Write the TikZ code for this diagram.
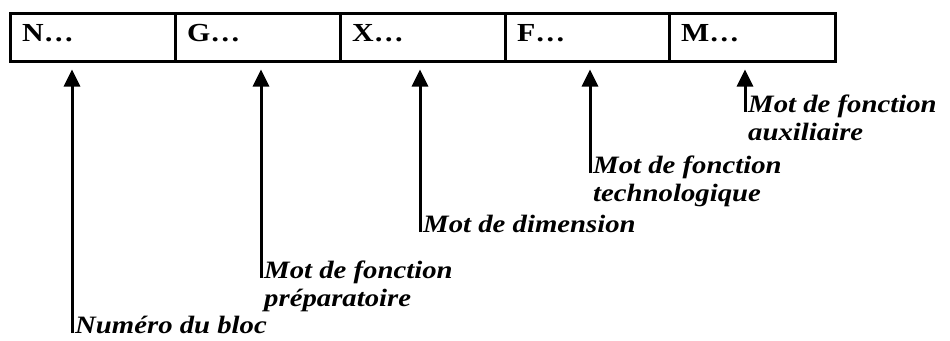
\documentclass[tikz,border=0pt]{standalone}
\usepackage{fontspec}
\setmainfont{Liberation Serif}[FakeStretch=1.15]
\usetikzlibrary{arrows.meta}

\begin{document}
\begin{tikzpicture}[x=1pt, y=-1pt,
    cell/.style={draw, line width=3pt, minimum height=48pt, inner sep=0pt},
    cellname/.style={font=\fontsize{26}{28}\selectfont\bfseries, anchor=base west, inner sep=0pt},
    descr/.style={font=\fontsize{25}{28}\selectfont\bfseries\itshape, anchor=north west, align=left, inner sep=0pt},
    pointer/.style={line width=3pt, -{Triangle[width=16pt, length=17pt]}, shorten >=7pt}]
    \useasboundingbox (0,0) rectangle (950,340);

    % Block cells
    \foreach \name/\xa/\xb in {N/10/175, G/175/340, X/340/505, F/505/669, M/669/835} {
        \pgfmathsetmacro{\w}{\xb-\xa}
        \node[cell, minimum width=\w pt] (cell\name) at ({(\xa+\xb)/2}, 37) {};
        \node[cellname] (name\name) at (\xa+12, 41) {\name\dots};
    }

    % Descriptions and pointers
    \foreach \name/\ax/\ay/\txt in {N/72/333/{Numéro du bloc}, G/261/278/{Mot de fonction\\préparatoire},
            X/420/232/{Mot de dimension}, F/590/173/{Mot de fonction\\technologique},
            M/745/112/{Mot de fonction\\auxiliaire}} {
        \coordinate (foot\name) at (\ax, \ay);
        \node[descr] (desc\name) at (\ax+3, \ay-17) {\txt};
        \draw[pointer] (foot\name) -- (foot\name |- cell\name.south);
    }
\end{tikzpicture}
\end{document}
